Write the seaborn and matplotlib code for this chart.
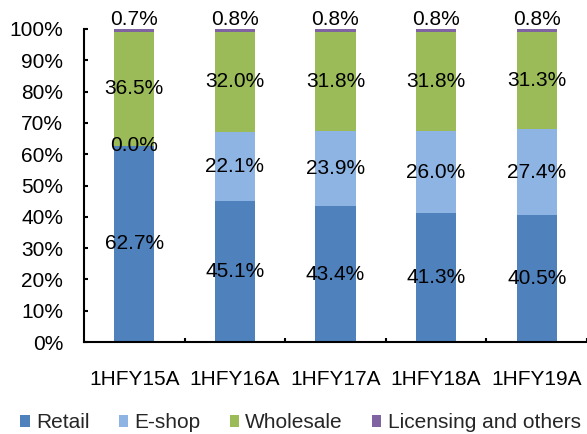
import matplotlib
matplotlib.use("Agg")
import matplotlib.pyplot as plt
from matplotlib.patches import Patch
from matplotlib.ticker import FixedLocator, FuncFormatter
import numpy as np
import pandas as pd
import seaborn as sns

# Revenue mix by channel, share of total (%)
periods = ["1HFY15A", "1HFY16A", "1HFY17A", "1HFY18A", "1HFY19A"]
retail = [62.7, 45.1, 43.4, 41.3, 40.5]
eshop = [0.0, 22.1, 23.9, 26.0, 27.4]
wholesale = [36.5, 32.0, 31.8, 31.8, 31.3]
licensing = [0.7, 0.8, 0.8, 0.8, 0.8]

series_names = ["Retail", "E-shop", "Wholesale", "Licensing and others"]
colors = ["#4F81BD", "#8EB4E3", "#9BBB59", "#8064A2"]

sns.set_theme(style="white")
plt.rcParams["font.family"] = ["Liberation Sans", "DejaVu Sans"]
FS = 15

df = pd.DataFrame({
    "period": periods,
    "Retail": retail,
    "E-shop": eshop,
    "Wholesale": wholesale,
    "Licensing and others": licensing,
})
# cumulative tops for stacking
cum = df[series_names].cumsum(axis=1)
cum["period"] = df["period"]

fig = plt.figure(figsize=(5.87, 4.34), dpi=100)
ax = fig.add_axes([84 / 587, 1 - 342 / 434, (587 - 84) / 587, (342 - 29) / 434])

# draw tallest stack first so lower segments sit on top of it
for name, color in reversed(list(zip(series_names, colors))):
    sns.barplot(data=cum, x="period", y=name, color=color, width=0.4,
                errorbar=None, linewidth=0, saturation=1, ax=ax)

ax.set_xlim(-0.5, len(periods) - 0.5)
ax.set_ylim(0, 100)
ax.set_xlabel("")
ax.set_ylabel("")

ax.yaxis.set_major_locator(FixedLocator(np.arange(0, 101, 10)))
ax.yaxis.set_major_formatter(FuncFormatter(lambda v, p: f"{int(round(v))}%"))
ax.tick_params(axis="y", direction="in", length=3, width=1.5, labelsize=FS,
               pad=15, colors="black", left=True)
ax.tick_params(axis="x", which="major", length=0, labelsize=FS, pad=20,
               colors="black")
ax.xaxis.set_minor_locator(FixedLocator(np.arange(0.5, len(periods), 1.0)))
ax.tick_params(axis="x", which="minor", direction="in", length=3, width=1.5,
               bottom=True, colors="black")

for side in ["top", "right"]:
    ax.spines[side].set_visible(False)
for side in ["left", "bottom"]:
    ax.spines[side].set_visible(True)
    ax.spines[side].set_color("black")
    ax.spines[side].set_linewidth(1.5)

# segment labels
for i in range(len(periods)):
    base = 0.0
    for name in series_names[:3]:
        v = df.loc[i, name]
        ax.text(i, base + v / 2, f"{v:.1f}%", ha="center", va="center",
                fontsize=FS, color="black")
        base += v
    v = df.loc[i, "Licensing and others"]
    ax.annotate(f"{v:.1f}%", xy=(i, base + v), xytext=(0, 4),
                textcoords="offset pixels", ha="center", va="baseline",
                fontsize=FS, color="black", annotation_clip=False)

handles = [Patch(facecolor=c, edgecolor="none") for c in colors]
fig.legend(handles, series_names, loc="center", bbox_to_anchor=(0.512, 1 - 423 / 434),
           ncol=4, frameon=False, fontsize=FS, handlelength=0.45,
           handleheight=0.45, handletextpad=0.3, columnspacing=1.4,
           borderaxespad=0, borderpad=0)

fig.savefig("out.png", dpi=100)
